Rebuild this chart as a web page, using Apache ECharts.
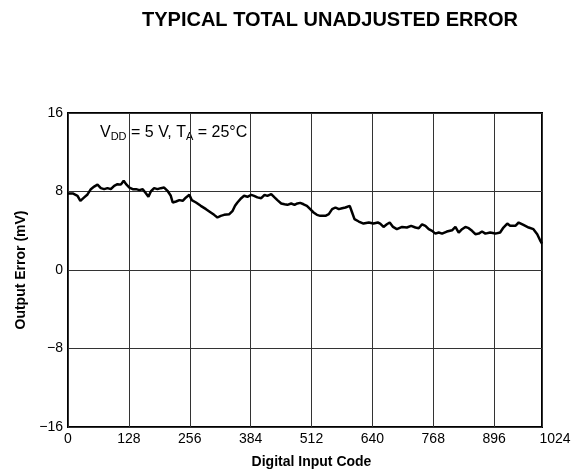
<!DOCTYPE html>
<html>
<head>
    <meta charset="utf-8">
    <style>
        body{
            margin:0;
            padding:0;
            background:#fff;
        }
        #chart{
            width: 587px;
            height: 474px;
        }
    </style>
</head>
<body>
    <div id="chart"></div>
    <script src="https://cdn.jsdelivr.net/npm/echarts@6/dist/echarts.min.js"></script>
    <script>
        // digital input code / output error (mV)
        var codes = [0, 10, 20, 26, 34, 41, 48, 55, 62, 69, 76, 83, 90, 97, 104, 111, 117, 122, 129, 136, 143, 150,
            157, 164, 169, 174, 181, 188, 195, 202, 209, 216, 220, 227, 234, 241, 248, 255, 260, 269, 279, 290, 300,
            307, 314, 321, 328, 339, 346, 351, 356, 364, 370, 377, 385, 391, 398, 406, 413, 419, 427, 434, 440, 448,
            455, 461, 469, 476, 482, 488, 495, 502, 509, 516, 523, 530, 541, 548, 555, 562, 569, 576, 583, 592, 597,
            602, 611, 621, 632, 642, 651, 656, 663, 670, 676, 683, 691, 702, 712, 721, 730, 737, 744, 751, 758, 765,
            772, 779, 786, 796, 807, 814, 821, 828, 835, 842, 849, 856, 863, 870, 877, 887, 898, 908, 915, 923, 929,
            940, 947, 957, 968, 978, 986, 992, 996];
        var errors = [7.8, 7.8, 7.56, 7.05, 7.4, 7.7, 8.24, 8.5, 8.7, 8.34, 8.24, 8.34, 8.24, 8.58, 8.75, 8.7, 9.1,
            8.75, 8.4, 8.24, 8.24, 8.14, 8.24, 7.8, 7.46, 8.0, 8.34, 8.24, 8.34, 8.4, 8.07, 7.56, 6.88, 6.98, 7.12,
            7.05, 7.4, 7.66, 7.12, 6.88, 6.54, 6.2, 5.86, 5.62, 5.35, 5.52, 5.62, 5.69, 6.03, 6.54, 6.88, 7.32, 7.56,
            7.46, 7.66, 7.56, 7.4, 7.32, 7.66, 7.56, 7.73, 7.4, 7.12, 6.78, 6.7, 6.64, 6.78, 6.64, 6.78, 6.84, 6.7,
            6.54, 6.2, 5.86, 5.62, 5.52, 5.52, 5.69, 6.2, 6.37, 6.2, 6.3, 6.37, 6.54, 5.86, 5.18, 4.94, 4.73, 4.84,
            4.73, 4.84, 4.73, 4.39, 4.66, 4.84, 4.39, 4.16, 4.39, 4.33, 4.5, 4.33, 4.26, 4.66, 4.5, 4.16, 3.99, 3.71,
            3.82, 3.71, 3.92, 4.05, 4.39, 3.82, 4.16, 4.39, 4.26, 3.99, 3.65, 3.71, 3.92, 3.71, 3.82, 3.71, 3.82,
            4.33, 4.73, 4.5, 4.5, 4.84, 4.6, 4.33, 4.16, 3.65, 3.03, 2.69];
        var yTicks = [-16, -8, 0, 8, 16];
        var xTickStep = 128;

        var lineData = [];
        for (var i = 0; i < codes.length; i++) {
            lineData.push([codes[i], errors[i]]);
        }

        function minus(v) {
            return String(v).replace('-', '\u2212');
        }

        var chart = echarts.init(document.getElementById('chart'));
        var option = {
            animation: false,
            textStyle: { fontFamily: 'Liberation Sans' },
            title: {
                text: 'TYPICAL TOTAL UNADJUSTED ERROR',
                left: 325,
                top: 5,
                textAlign: 'center',
                textStyle: { fontSize: 20, fontWeight: 'bold', color: '#000', fontFamily: 'Liberation Sans' }
            },
            grid: [
                { left: 68, top: 113, width: 474, height: 314, show: true, borderColor: '#000', borderWidth: 2, containLabel: false },
                { left: 68, top: 113, width: 487, height: 314, show: false, containLabel: false }
            ],
            xAxis: [
                {
                    gridIndex: 0, type: 'value', min: 0, max: 996, interval: xTickStep,
                    axisLine: { show: false }, axisTick: { show: false }, axisLabel: { show: false },
                    splitLine: { show: true, lineStyle: { color: '#333', width: 1 } }
                },
                {
                    gridIndex: 1, type: 'value', min: 0, max: 1024, interval: xTickStep,
                    axisLine: { show: false }, axisTick: { show: false }, splitLine: { show: false },
                    axisLabel: { show: true, color: '#000', fontSize: 14, margin: 7, formatter: function (v) { return String(v); } },
                    name: 'Digital Input Code', nameLocation: 'middle', nameGap: 30,
                    nameTextStyle: { fontSize: 14, fontWeight: 'bold', color: '#000' }
                }
            ],
            yAxis: [
                {
                    gridIndex: 0, type: 'value', min: yTicks[0], max: yTicks[yTicks.length - 1], interval: 8,
                    axisLine: { show: false }, axisTick: { show: false },
                    splitLine: { show: true, lineStyle: { color: '#333', width: 1 } },
                    axisLabel: { color: '#000', fontSize: 14, margin: 5, formatter: minus },
                    name: 'Output Error (mV)', nameLocation: 'middle', nameGap: 38,
                    nameTextStyle: { fontSize: 14, fontWeight: 'bold', color: '#000' }
                },
                { gridIndex: 1, type: 'value', min: -16, max: 16, show: false }
            ],
            graphic: [
                {
                    type: 'text',
                    left: 100,
                    top: 125,
                    style: {
                        text: 'V{s|DD} = 5 V, T{s|A} = 25°C',
                        fontSize: 16,
                        fontFamily: 'Liberation Sans',
                        fill: '#000',
                        rich: {
                            s: { fontSize: 11, padding: [7, 0, 0, 0], fontFamily: 'Liberation Sans' }
                        }
                    }
                }
            ],
            series: [
                {
                    type: 'line',
                    xAxisIndex: 0,
                    yAxisIndex: 0,
                    data: lineData,
                    symbol: 'none',
                    lineStyle: { color: '#000', width: 2.5 }
                }
            ]
        };
        chart.setOption(option);
    </script>
</body>
</html>
